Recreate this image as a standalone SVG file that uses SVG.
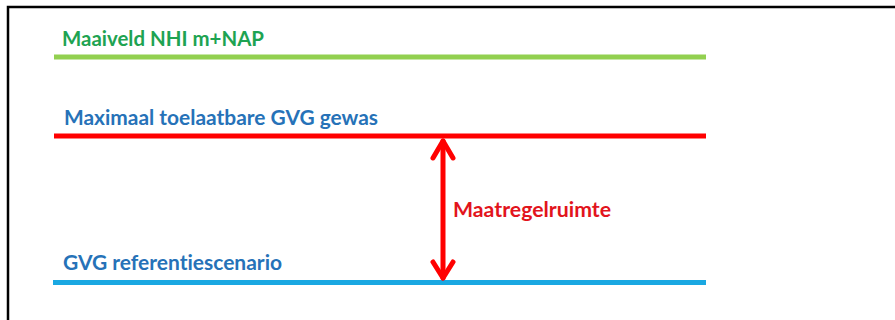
<svg xmlns="http://www.w3.org/2000/svg" width="895" height="320" viewBox="0 0 895 320">
<defs>
<style>
.lbl{font-family:Lato,"Open Sans","Liberation Sans",sans-serif;font-weight:bold;font-size:20px;font-variant-ligatures:none}
.lvl{stroke-width:5;fill:none}
.arr{stroke:#ff0000;stroke-width:5;fill:none;stroke-linecap:round;stroke-linejoin:round}
</style>
</defs>
<rect x="0" y="0" width="895" height="320" fill="#ffffff"/>
<path d="M8 320 V7 H895" fill="none" stroke="#000000" stroke-width="2.5"/>
<g id="maaiveld">
<line class="lvl" x1="54" y1="57" x2="706" y2="57" stroke="#92d050"/>
<text class="lbl" x="62" y="46" fill="#1ea352" textLength="202" lengthAdjust="spacingAndGlyphs">Maaiveld NHI m+NAP</text>
</g>
<g id="max-gvg">
<line class="lvl" x1="54" y1="136" x2="706" y2="136" stroke="#ff0000"/>
<text class="lbl" x="64" y="125" fill="#2672b8" textLength="314" lengthAdjust="spacingAndGlyphs">Maximaal toelaatbare GVG gewas</text>
</g>
<g id="ref-gvg">
<line class="lvl" x1="53" y1="282.5" x2="706" y2="282.5" stroke="#1aa8e2"/>
<text class="lbl" x="63" y="270" fill="#2672b8" textLength="219" lengthAdjust="spacingAndGlyphs">GVG referentiescenario</text>
</g>
<g id="connectors">
<line class="arr" x1="443" y1="141" x2="443" y2="278"/>
<polyline class="arr" points="433,158 443,141 453,158"/>
<polyline class="arr" points="433,262 443,278 453,262"/>
</g>
<g id="maatregelruimte">
<text class="lbl" x="453" y="217" fill="#e2141c" textLength="158" lengthAdjust="spacingAndGlyphs">Maatregelruimte</text>
</g>
</svg>
